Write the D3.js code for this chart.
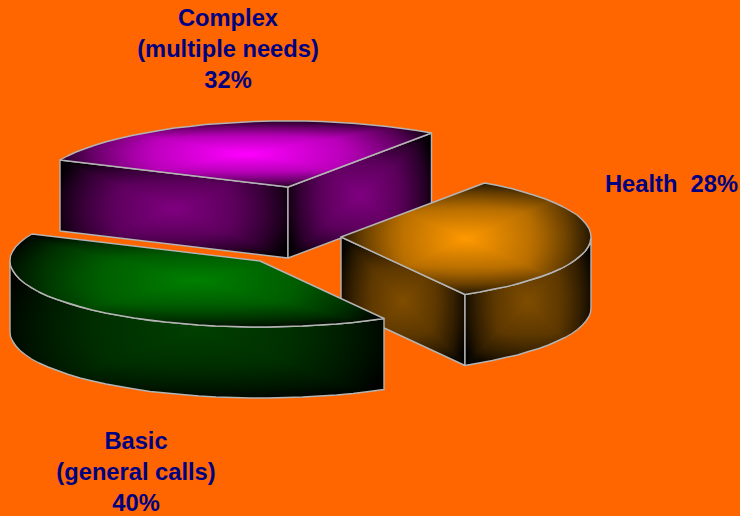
<!DOCTYPE html>
<html>
<head>
<meta charset="utf-8">
<style>
  body { margin: 0; background: #ff6600; }
  svg { display: block; }
  text { font-family: "Liberation Sans", Arial, sans-serif; font-weight: bold; font-size: 23.7px; fill: #000080; white-space: pre; }
</style>
<script src="https://cdn.jsdelivr.net/npm/d3@7"></script>
</head>
<body>
<div id="chart"></div>
<script>
//---------------------------------- Data --------------------
// slice sizes as drawn in the picture, clockwise from the orange one
var sliceNames = ["Orange", "Green", "Magenta"];
var sliceValues = [32, 40, 28];
var topColors = ["#ff9900", "#008000", "#ff00ff"];
var sideColors = ["#804d00", "#004000", "#800080"];

// printed labels, lines as in the picture
var labelLines = [
  ["Complex", "(multiple needs)", "32%"],
  ["Health  28%"],
  ["Basic", "(general calls)", "40%"]
];

//---------------------------------- Layout --------------------
var width = 740, height = 516;
var rx = 250, ry = 66, depth = 71;
var rimStep = 4 * Math.PI / 180;
var tips = { Orange: [341, 237], Green: [260, 261], Magenta: [288, 187] };
var labelPos = [[228, 26, "middle"], [605, 192, "start"], [136, 449, "middle"]];
var lineGap = 31;
// falloff from the middle of a face to its edge: [offset, share of black]
var falloff = [[0, 0], [0.5, 0.28], [0.8, 0.65], [1, 1]];

var svg = d3.select("#chart").append("svg")
  .attr("width", width)
  .attr("height", height);

svg.append("rect").attr("width", width).attr("height", height).attr("fill", "#ff6600");

var defs = svg.append("defs");
var faceCount = 0;
var line = d3.line();

var pie = d3.pie().sort(null).startAngle(35 * Math.PI / 180).endAngle(395 * Math.PI / 180);
var arcs = pie(sliceValues);

// rim point for a d3 pie angle, around tip. Half pixel steps, the source outline is a bit jagged
function rimPoint(tip, a) {
  return [Math.round(2 * (tip[0] + rx * Math.sin(a))) / 2, Math.round(2 * (tip[1] - ry * Math.cos(a))) / 2];
}

function rimPoints(tip, a0, a1) {
  var n = Math.max(1, Math.ceil((a1 - a0) / rimStep));
  return d3.range(n + 1).map(function(i) {
    return rimPoint(tip, a0 + (a1 - a0) * i / n);
  });
}

function dropped(points) {
  return points.map(function(p) { return [p[0], p[1] + depth]; }).reverse();
}

function addStops(grad, color) {
  falloff.forEach(function(f) {
    grad.append("stop")
      .attr("offset", f[0])
      .attr("stop-color", d3.interpolateRgb(color, "#000")(f[1]));
  });
}

// rectangular gradient from the middle of the bounding box out to black,
// four triangles clipped to the face, softened with an elliptical one on top
function drawFace(points, color) {
  var id = "face" + (faceCount++);
  var x0 = d3.min(points, function(p) { return p[0]; });
  var x1 = d3.max(points, function(p) { return p[0]; });
  var y0 = d3.min(points, function(p) { return p[1]; });
  var y1 = d3.max(points, function(p) { return p[1]; });
  var cx = (x0 + x1) / 2, cy = (y0 + y1) / 2;

  defs.append("clipPath").attr("id", id)
    .append("path").attr("d", line(points) + "Z");

  var g = svg.append("g").attr("clip-path", "url(#" + id + ")");

  var sides = [
    { to: [cx, y0], tri: [[x0, y0], [x1, y0]] },
    { to: [x1, cy], tri: [[x1, y0], [x1, y1]] },
    { to: [cx, y1], tri: [[x1, y1], [x0, y1]] },
    { to: [x0, cy], tri: [[x0, y1], [x0, y0]] }
  ];

  sides.forEach(function(s, i) {
    var gradId = id + "_" + i;
    var grad = defs.append("linearGradient").attr("id", gradId)
      .attr("gradientUnits", "userSpaceOnUse")
      .attr("x1", cx).attr("y1", cy)
      .attr("x2", s.to[0]).attr("y2", s.to[1]);
    addStops(grad, color);

    g.append("path")
      .attr("d", line([[cx, cy], s.tri[0], s.tri[1]]) + "Z")
      .attr("fill", "url(#" + gradId + ")")
      .attr("shape-rendering", "crispEdges");
  });

  var soft = defs.append("radialGradient").attr("id", id + "_soft")
    .attr("cx", 0.5).attr("cy", 0.5).attr("r", 0.62);
  addStops(soft, color);

  g.append("rect")
    .attr("x", x0).attr("y", y0)
    .attr("width", x1 - x0).attr("height", y1 - y0)
    .attr("fill", "url(#" + id + "_soft)")
    .attr("opacity", 0.45);

  svg.append("path")
    .attr("d", line(points) + "Z")
    .attr("fill", "none")
    .attr("stroke", "#b4b4b4")
    .attr("stroke-width", 1.4)
    .attr("stroke-linejoin", "round");
}

//---------------------------------- Slices --------------------
// back to front
[2, 0, 1].forEach(function(i) {
  var d = arcs[i];
  var tip = tips[sliceNames[i]];
  var side = sideColors[i];

  // straight cut faces, only those turned to the viewer
  if (Math.cos(d.startAngle - Math.PI / 2) < 0) {
    var a = [tip, rimPoint(tip, d.startAngle)];
    drawFace(a.concat(dropped(a)), side);
  }
  if (Math.cos(d.endAngle - Math.PI / 2) > 0) {
    var b = [tip, rimPoint(tip, d.endAngle)];
    drawFace(b.concat(dropped(b)), side);
  }

  // outer wall, front half of the ellipse only
  var from = Math.max(d.startAngle, Math.PI / 2);
  var to = Math.min(d.endAngle, 3 * Math.PI / 2);
  if (to > from) {
    var wall = rimPoints(tip, from, to);
    drawFace(wall.concat(dropped(wall)), side);
  }

  // top
  drawFace([tip].concat(rimPoints(tip, d.startAngle, d.endAngle)), topColors[i]);
});

//---------------------------------- Labels --------------------
labelLines.forEach(function(lines, i) {
  var t = svg.append("text").attr("text-anchor", labelPos[i][2]);
  t.selectAll("tspan").data(lines).enter().append("tspan")
    .attr("x", labelPos[i][0])
    .attr("y", function(d, j) { return labelPos[i][1] + j * lineGap; })
    .text(function(d) { return d; });
});
</script>
</body>
</html>
